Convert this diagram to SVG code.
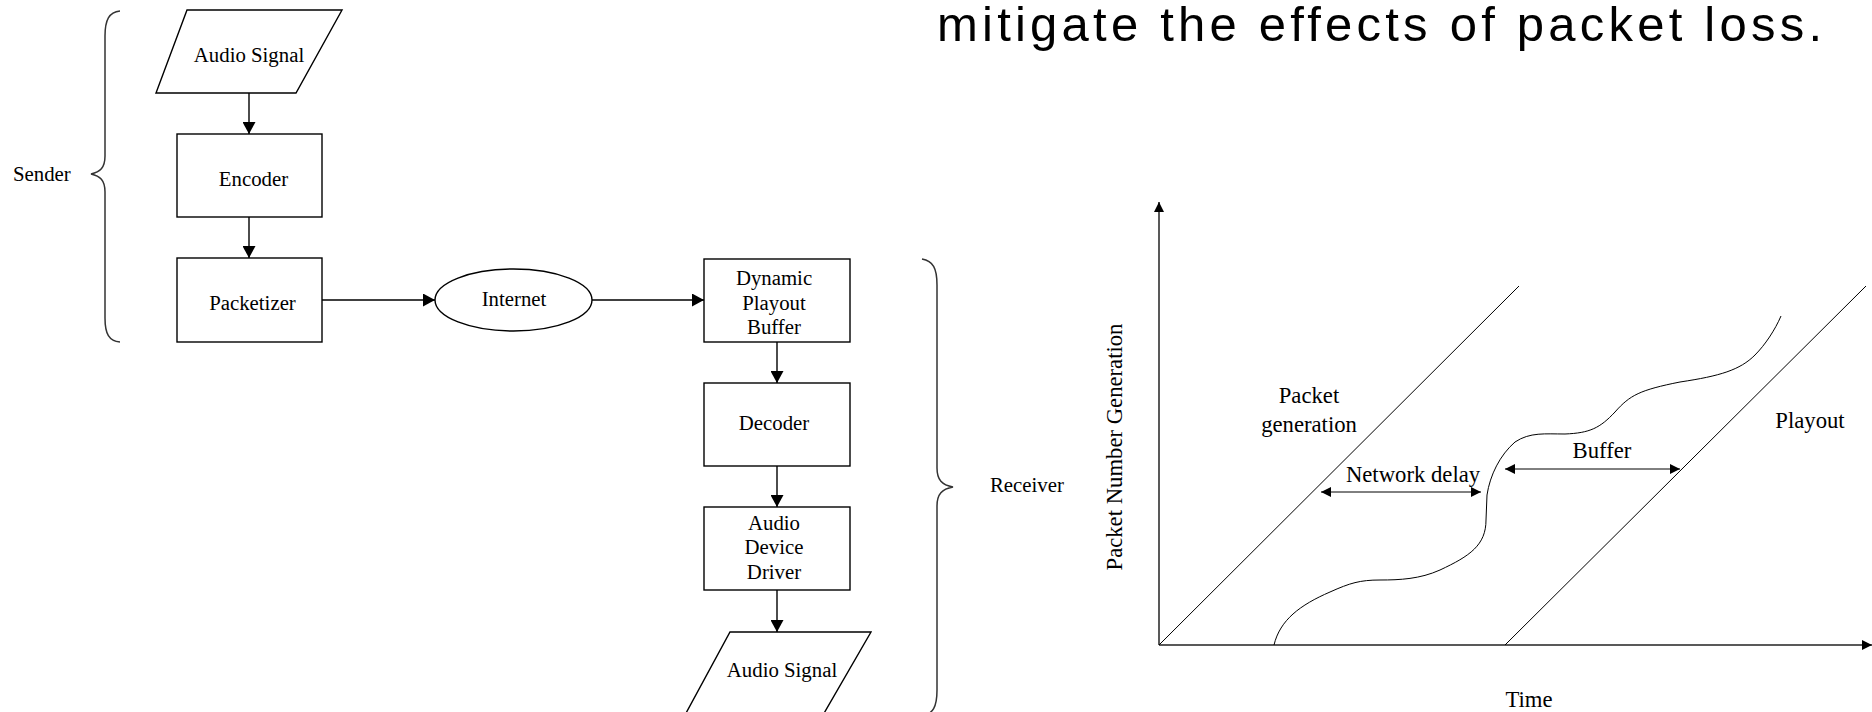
<svg xmlns="http://www.w3.org/2000/svg" width="1872" height="712" viewBox="0 0 1872 712">
<style>
.box{fill:#fff;stroke:#000;stroke-width:1.4}
.t{font-family:"Liberation Serif","Times New Roman",serif;font-size:20.8px;fill:#000}
.g{font-family:"Liberation Serif","Times New Roman",serif;font-size:22.7px;fill:#000}
.c{fill:none;stroke:#000;stroke-width:1.4}
.brace{fill:none;stroke:#333;stroke-width:1.5}
.gl{fill:none;stroke:#000;stroke-width:1}
.ax{fill:none;stroke:#222;stroke-width:1.5}
</style>
<defs>
<marker id="ah" markerUnits="userSpaceOnUse" markerWidth="12" markerHeight="13" refX="12" refY="6.5" orient="auto"><path d="M0,0 L12,6.5 L0,13 z" fill="#000"/></marker>
<marker id="sh" markerUnits="userSpaceOnUse" markerWidth="10" markerHeight="10" refX="10" refY="5" orient="auto-start-reverse"><path d="M0,0 L10,5 L0,10 z" fill="#000"/></marker>
</defs>
<rect width="1872" height="712" fill="#fff"/>
<text x="937" y="41" font-family="'Liberation Sans',Arial,sans-serif" font-size="49" textLength="885" lengthAdjust="spacing">mitigate the effects of packet loss.</text>
<g id="sender-brace"><path class="brace" d="M120,11 C109,12 105,20 105,36 L105,156 C105,168 100,172 91,174 C100,176 105,180 105,192 L105,318 C105,334 109,341 120,342"/><text class="t" x="13" y="181">Sender</text></g>
<g id="receiver-brace"><path class="brace" d="M922,259 C933,261 937,268 937,285 L937,468 C937,480 942,485 953,487 C942,489 937,494 937,506 L937,690 C937,707 933,714 922,716"/><text class="t" x="990" y="492">Receiver</text></g>
<g id="audio-in"><polygon class="box" points="187,10 342,10 296,93 156,93"/><text class="t" x="249" y="62" text-anchor="middle">Audio Signal</text></g>
<g id="encoder"><rect class="box" x="177" y="134" width="145" height="83"/><text class="t" x="253.5" y="186" text-anchor="middle">Encoder</text></g>
<g id="packetizer"><rect class="box" x="177" y="258" width="145" height="84"/><text class="t" x="252.5" y="310" text-anchor="middle">Packetizer</text></g>
<g id="internet"><ellipse class="box" cx="513.5" cy="300" rx="78.5" ry="31"/><text class="t" x="514" y="306" text-anchor="middle">Internet</text></g>
<g id="playout-buffer"><rect class="box" x="704" y="259" width="146" height="83"/><text class="t" text-anchor="middle"><tspan x="774" y="285">Dynamic</tspan><tspan x="774" y="310">Playout</tspan><tspan x="774" y="334">Buffer</tspan></text></g>
<g id="decoder"><rect class="box" x="704" y="383" width="146" height="83"/><text class="t" x="774" y="430" text-anchor="middle">Decoder</text></g>
<g id="audio-driver"><rect class="box" x="704" y="507" width="146" height="83"/><text class="t" text-anchor="middle"><tspan x="774" y="530">Audio</tspan><tspan x="774" y="554">Device</tspan><tspan x="774" y="579">Driver</tspan></text></g>
<g id="audio-out"><polygon class="box" points="730,632 871,632 823,715 685,715"/><text class="t" x="782" y="677" text-anchor="middle">Audio Signal</text></g>
<g id="connectors">
<line class="c" x1="249" y1="93" x2="249" y2="134" marker-end="url(#ah)"/>
<line class="c" x1="249" y1="217" x2="249" y2="258" marker-end="url(#ah)"/>
<line class="c" x1="322" y1="300" x2="435" y2="300" marker-end="url(#ah)"/>
<line class="c" x1="592" y1="300" x2="704" y2="300" marker-end="url(#ah)"/>
<line class="c" x1="777" y1="342" x2="777" y2="383" marker-end="url(#ah)"/>
<line class="c" x1="777" y1="466" x2="777" y2="507" marker-end="url(#ah)"/>
<line class="c" x1="777" y1="590" x2="777" y2="632" marker-end="url(#ah)"/>
</g>
<g id="graph">
<line class="ax" x1="1159" y1="645" x2="1159" y2="202" marker-end="url(#sh)"/>
<line class="ax" x1="1159" y1="645" x2="1872" y2="645" marker-end="url(#sh)"/>
<line class="gl" x1="1159" y1="645" x2="1519" y2="286"/>
<line class="gl" x1="1505" y1="645" x2="1866" y2="286"/>
<path class="gl" d="M1274,645 C1280,620 1300,605 1330,592 C1350,583 1360,580 1380,580 C1400,580 1420,579 1440,570 C1470,556 1486,545 1486,520 L1487,495 C1490,475 1500,455 1515,442 C1530,432 1545,434 1565,434 C1590,433 1600,428 1615,412 C1630,395 1640,390 1680,382 C1720,376 1740,370 1755,355 C1765,345 1775,330 1781,316"/>
<line class="gl" x1="1321" y1="492" x2="1481" y2="492" marker-start="url(#sh)" marker-end="url(#sh)"/>
<line class="gl" x1="1505" y1="469" x2="1680" y2="469" marker-start="url(#sh)" marker-end="url(#sh)"/>
<text class="g" text-anchor="middle"><tspan x="1309" y="403">Packet</tspan><tspan x="1309" y="432">generation</tspan></text>
<text class="g" x="1413" y="482" text-anchor="middle">Network delay</text>
<text class="g" x="1602" y="458" text-anchor="middle">Buffer</text>
<text class="g" x="1810" y="428" text-anchor="middle">Playout</text>
<text class="g" x="1529" y="707" text-anchor="middle">Time</text>
<text class="g" x="1122" y="447" text-anchor="middle" transform="rotate(-90 1122 447)">Packet Number Generation</text>
</g>
</svg>
